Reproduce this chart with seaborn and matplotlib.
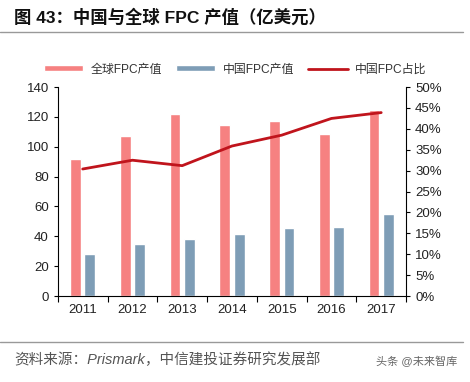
import seaborn as sns
import matplotlib.pyplot as plt
import pandas as pd
import numpy as np
from matplotlib.patches import Patch
from matplotlib.lines import Line2D

# values
years = ['2011', '2012', '2013', '2014', '2015', '2016', '2017']
global_fpc = [91.5, 107.5, 122, 114.5, 117.5, 108.5, 124.5]
china_fpc = [28, 35, 38.5, 41.5, 45.5, 46.5, 55]
china_share = [30.4, 32.5, 31.2, 35.9, 38.5, 42.5, 43.9]

series_names = ['全球FPC产值', '中国FPC产值', '中国FPC占比']
palette = {'全球FPC产值': '#F68181', '中国FPC产值': '#7E9DB6'}
line_color = '#C0141C'

sns.set_theme(style='white')
plt.rcParams['font.family'] = ['Liberation Sans', 'Noto Sans CJK SC', 'DejaVu Sans']

df = pd.DataFrame({
    'year': years * 2,
    'value': global_fpc + china_fpc,
    'series': [series_names[0]] * len(years) + [series_names[1]] * len(years),
})

fig = plt.figure(figsize=(4.7, 3.82), dpi=100)
ax = fig.add_axes([0.123, 0.225, 0.741, 0.547])

sns.barplot(data=df, x='year', y='value', hue='series', palette=palette,
            width=0.58, gap=0.25, saturation=1, ax=ax, legend=False)

ax2 = ax.twinx()
sns.lineplot(x=np.arange(len(years)), y=china_share, color=line_color,
             linewidth=2, ax=ax2)

ax.set_ylim(0, 140)
ax.set_yticks(range(0, 141, 20))
ax.set_xlim(-0.5, len(years) - 0.5)
ax2.set_ylim(0, 50)
ax2.set_yticks(range(0, 51, 5))
ax2.set_yticklabels([f'{v}%' for v in range(0, 51, 5)])

ax.set_xlabel('')
ax.set_ylabel('')
ax2.set_ylabel('')

# category boundary ticks on the x axis
ax.set_xticks(np.arange(-0.5, len(years), 1.0), minor=True)
ax.tick_params(axis='x', which='major', length=0, pad=6, labelsize=9.5, colors='#222222')
ax.tick_params(axis='x', which='minor', length=4, width=0.8, color='black', direction='out', bottom=True)
ax.tick_params(axis='y', length=3, width=0.8, color='black', direction='out', left=True,
               labelsize=9.5, colors='#222222')
ax2.tick_params(axis='y', length=3, width=0.8, color='black', direction='out', right=True,
                labelsize=9.5, colors='#222222')
for a in (ax, ax2):
    for side in ('left', 'bottom', 'right'):
        a.spines[side].set_color('black')
        a.spines[side].set_linewidth(0.8)
    a.spines['top'].set_visible(False)
ax.spines['right'].set_visible(False)
ax2.spines['left'].set_visible(False)
ax2.spines['bottom'].set_visible(False)
ax.grid(False)
ax2.grid(False)

# legend
handles = [Patch(facecolor=palette[series_names[0]]),
           Patch(facecolor=palette[series_names[1]]),
           Line2D([0], [0], color=line_color, linewidth=2)]
fig.legend(handles, series_names, loc='center', bbox_to_anchor=(0.5, 0.818), ncol=3,
           frameon=False, fontsize=8.6, handlelength=3.3, handleheight=0.45,
           columnspacing=1.2, handletextpad=0.6, labelcolor='#333333')

# title, rules and footer
fig.text(0.03, 0.955, '图 43：中国与全球 FPC 产值（亿美元）', fontsize=12.5,
         fontweight='bold', color='#111111', va='center')
fig.add_artist(Line2D([0.0, 0.985], [0.916, 0.916], color='#999999', linewidth=1))
fig.add_artist(Line2D([0.0, 0.985], [0.105, 0.105], color='#999999', linewidth=1))
fig.text(0.03, 0.058, '资料来源：Prismark，中信建投证券研究发展部', fontsize=10.5,
         style='italic', color='#555555', va='center')
fig.text(0.8, 0.055, '头条 @未来智库', fontsize=8, color='#666666', va='center')

plt.savefig('out.png', dpi=100)
